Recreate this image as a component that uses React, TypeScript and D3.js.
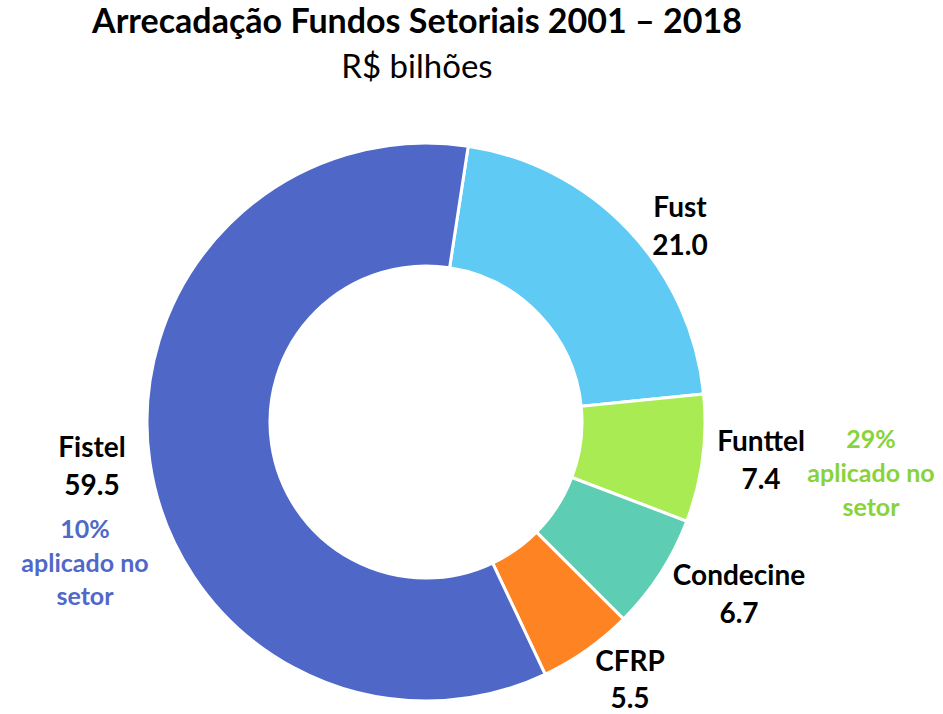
import React from "react";
import * as d3 from "d3";

const categories = ["Fust", "Funttel", "Condecine", "CFRP", "Fistel"];
const values = [21.0, 7.4, 6.7, 5.5, 59.5];
const valueLabels = ["21.0", "7.4", "6.7", "5.5", "59.5"];
const colors = ["#5FCBF4", "#A9EB52", "#5DCEB3", "#FE8323", "#4F68C8"];
const noteFistel = ["10%", "aplicado no", "setor"];
const noteFunttel = ["29%", "aplicado no", "setor"];

const W = 943;
const H = 714;
const CX = 426;
const CY = 422;
const R_OUT = 279;
const R_IN = 156;
const START_DEG = 8.7;

// label anchor positions (center x, baseline y of name line, line gap)
const labelPos: Record<string, [number, number, number]> = {
  Fust: [680, 217, 38],
  Funttel: [761, 451, 38],
  Condecine: [739, 585, 38],
  CFRP: [630, 671, 37],
  Fistel: [92, 457, 38],
};

export default function App() {
  const pie = d3
    .pie<number>()
    .sort(null)
    .value((d) => d)
    .startAngle((START_DEG * Math.PI) / 180)
    .endAngle((START_DEG * Math.PI) / 180 + 2 * Math.PI);
  const arcs = pie(values);
  const arc = d3.arc<d3.PieArcDatum<number>>().innerRadius(R_IN).outerRadius(R_OUT);
  const font = "Lato, 'Open Sans', sans-serif";

  return (
    <svg width={W} height={H} style={{ position: "absolute", left: 0, top: 0 }} fontFamily={font}>
      <rect width={W} height={H} fill="#fff" />
      <text x={417} y={33} textAnchor="middle" fontWeight={700} fontSize={34} fill="#000">
        Arrecadação Fundos Setoriais 2001 – 2018
      </text>
      <text x={417} y={78} textAnchor="middle" fontWeight={400} fontSize={33} fill="#000">
        R$ bilhões
      </text>
      <g transform={`translate(${CX},${CY})`}>
        {arcs.map((a, i) => (
          <path key={categories[i]} d={arc(a) || ""} fill={colors[i]} stroke="#fff" strokeWidth={3} strokeLinejoin="miter" />
        ))}
      </g>
      {categories.map((c, i) => {
        const [x, y, gap] = labelPos[c];
        return (
          <g key={c} fontWeight={700} fontSize={28} fill="#000" textAnchor="middle">
            <text x={x} y={y}>{c}</text>
            <text x={x} y={y + gap}>{valueLabels[i]}</text>
          </g>
        );
      })}
      <g fontWeight={700} fontSize={25} fill="#5068C8" textAnchor="middle">
        {noteFistel.map((t, i) => (
          <text key={i} x={85} y={538 + i * 33.5}>{t}</text>
        ))}
      </g>
      <g fontWeight={700} fontSize={25} fill="#88D33A" textAnchor="middle">
        {noteFunttel.map((t, i) => (
          <text key={i} x={871} y={448 + i * 34}>{t}</text>
        ))}
      </g>
    </svg>
  );
}
